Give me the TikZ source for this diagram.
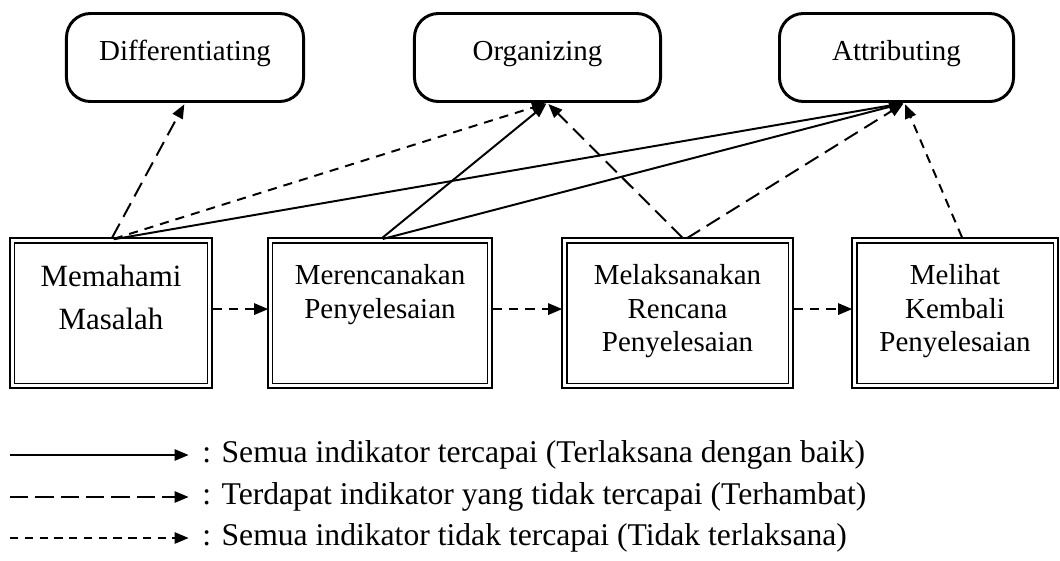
\documentclass[tikz,border=0pt]{standalone}
\usepackage{fontspec}
\setmainfont{Liberation Serif}
\usepackage{tikz}
\usetikzlibrary{arrows.meta}
\tikzset{rnd/.style={draw,rounded corners=0.6cm,line width=2.1pt,minimum height=2.2cm,inner sep=0,text height=0.575cm,text depth=0.425cm,font=\fontsize{20.6}{23.8}\selectfont}}
\tikzset{dbl/.style={draw,double,double distance=2.1pt,line width=1.1pt,minimum height=3.625cm,inner sep=0,align=center,text height=0.5cm,text depth=1.9cm,font=\fontsize{20.6}{23.8}\selectfont}}
\tikzset{leg/.style={anchor=west,inner sep=0,font=\fontsize{22.5}{27}\selectfont}}
\tikzset{tercapai/.style={->,line width=1.4pt,shorten <=2pt,shorten >=1pt}}
\tikzset{hambat/.style={tercapai,dash pattern=on 11pt off 5.5pt}}
\tikzset{gagal/.style={tercapai,dash pattern=on 6.5pt off 5pt}}

\begin{document}
\begin{tikzpicture}[>={Triangle[length=10pt,width=8pt]},x=0.025cm,y=-0.025cm]
    \useasboundingbox (0,0) rectangle (1060,560);

    \node[rnd,minimum width=5.925cm] (dif) at (185,57.5) {Differentiating};
    \node[rnd,minimum width=6.15cm] (org) at (537.5,57.5) {Organizing};
    \node[rnd,minimum width=5.85cm] (att) at (896.5,57.5) {Attributing};

    \node[dbl,text width=4.925cm,text depth=1.8cm,font=\fontsize{22}{30.5}\selectfont] (mm) at (111,313) {Memahami\\Masalah};
    \node[dbl,text width=5.475cm] (mr) at (380,313) {Merencanakan\\Penyelesaian};
    \node[dbl,text width=5.65cm] (ml) at (677.5,313) {Melaksanakan\\Rencana\\Penyelesaian};
    \node[dbl,text width=5.025cm] (mk) at (955,313) {Melihat\\Kembali\\Penyelesaian};

    \draw [hambat] (mm.north) to (dif.south);
    \draw [gagal] (mm.north) to ([xshift=7pt]org.south);
    \draw [tercapai] (mm.north) to ([xshift=5.7pt]att.south);
    \draw [tercapai] (mr.north) to ([xshift=7pt]org.south);
    \draw [tercapai] (mr.north) to ([xshift=5.7pt]att.south);
    \draw [hambat] ([xshift=5pt]ml.north) to ([xshift=7pt]org.south);
    \draw [hambat] ([xshift=5pt]ml.north) to ([xshift=5.7pt]att.south);
    \draw [gagal] ([xshift=5.7pt]mk.north) to ([xshift=5.7pt]att.south);

    \draw [gagal] ([yshift=2.8pt]mm.east) to ([yshift=2.8pt]mr.west);
    \draw [gagal] ([yshift=2.8pt]mr.east) to ([yshift=2.8pt]ml.west);
    \draw [gagal] ([yshift=2.8pt]ml.east) to ([yshift=2.8pt]mk.west);

    % legend
    \node[leg] (k1) at (202,455) {: Semua indikator tercapai (Terlaksana dengan baik)};
    \node[leg] (k2) at (202,497) {: Terdapat indikator yang tidak tercapai (Terhambat)};
    \node[leg] (k3) at (202,538) {: Semua indikator tidak tercapai (Tidak terlaksana)};
    \coordinate (s1) at (10,455);
    \coordinate (s2) at (10,497);
    \coordinate (s3) at (10,538);
    \draw [tercapai,shorten <=0pt] (s1) to ([xshift=-8.5pt]k1.west);
    \draw [hambat,shorten <=0pt,dash pattern=on 13pt off 5pt] (s2) to ([xshift=-8.5pt]k2.west);
    \draw [gagal,shorten <=0pt,dash pattern=on 6pt off 4.5pt] (s3) to ([xshift=-8.5pt]k3.west);
\end{tikzpicture}
\end{document}
